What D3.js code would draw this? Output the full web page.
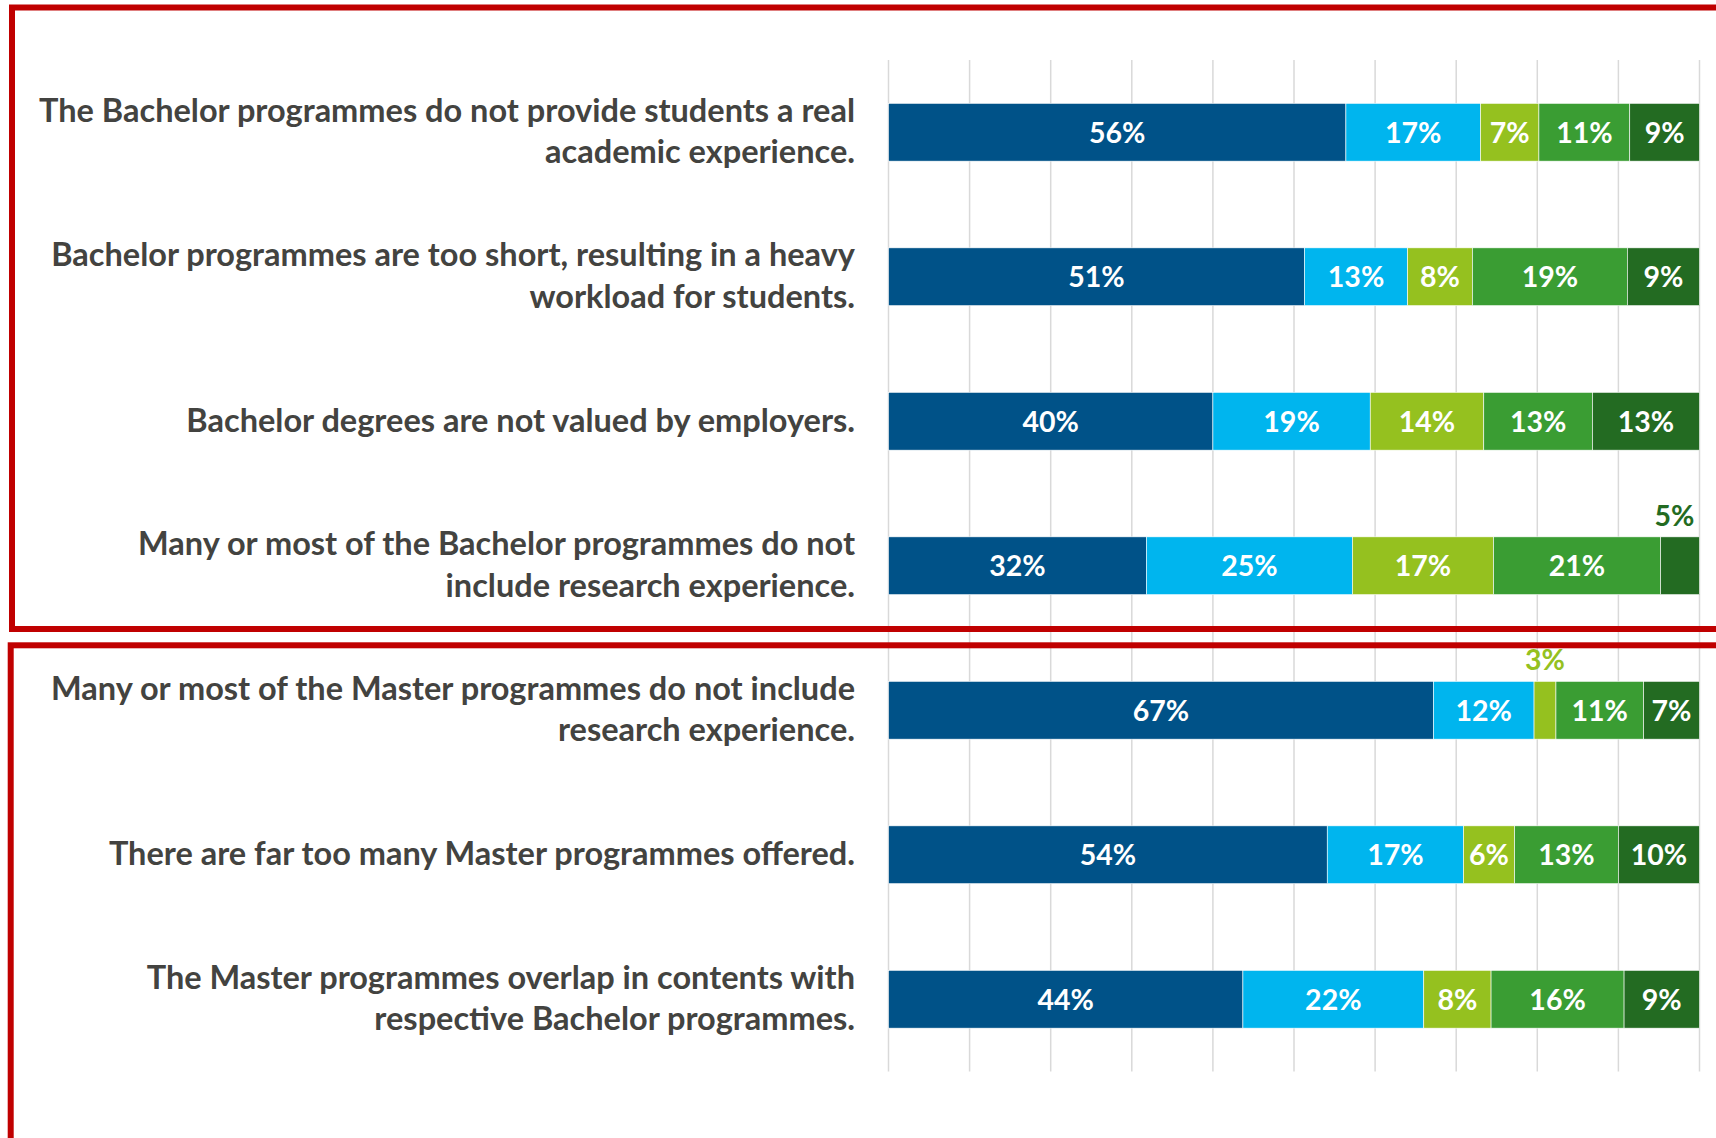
<!DOCTYPE html>
<html>
<head>
<meta charset="utf-8">
<script src="https://cdn.jsdelivr.net/npm/d3@7"></script>
<style>
  html, body { margin: 0; padding: 0; background: #ffffff; }
  svg { display: block; }
</style>
</head>
<body>
<svg id="chart" width="1716" height="1138"></svg>
<script>
// ---- data ----
const categories = [
  ["The Bachelor programmes do not provide students a real", "academic experience."],
  ["Bachelor programmes are too short, resulting in a heavy", "workload for students."],
  ["Bachelor degrees are not valued by employers."],
  ["Many or most of the Bachelor programmes do not", "include research experience."],
  ["Many or most of the Master programmes do not include", "research experience."],
  ["There are far too many Master programmes offered."],
  ["The Master programmes overlap in contents with", "respective Bachelor programmes."]
];
const seriesKeys = ["s1", "s2", "s3", "s4", "s5"];
const s1 = [56.4, 51.3, 40.0, 31.8, 67.2, 54.1, 43.7];
const s2 = [16.6, 12.7, 19.4, 25.4, 12.4, 16.8, 22.3];
const s3 = [7.2, 8.0, 14.0, 17.4, 2.7, 6.3, 8.3];
const s4 = [11.2, 19.1, 13.4, 20.6, 10.8, 12.8, 16.4];
const s5 = [8.6, 8.9, 13.2, 4.8, 6.9, 10.0, 9.3];
const seriesColors = ["#005288", "#00B5EE", "#95C11F", "#3A9D33", "#236B22"];
const gridTicks = [0, 0.1, 0.2, 0.3, 0.4, 0.5, 0.6, 0.7, 0.8, 0.9, 1.0];

// ---- build table ----
const seriesValues = [s1, s2, s3, s4, s5];
const rows = categories.map((c, i) => {
  const r = { idx: i };
  seriesKeys.forEach((k, j) => r[k] = seriesValues[j][i]);
  return r;
});

const svg = d3.select("#chart");

const x = d3.scaleLinear().domain([0, 1]).range([888.5, 1699.5]);
const y = d3.scaleBand().domain(d3.range(categories.length))
  .range([60, 1071.5]).paddingInner(0.6).paddingOuter(0.3);
const color = d3.scaleOrdinal().domain(seriesKeys).range(seriesColors);

// gridlines
svg.append("g").selectAll("line").data(gridTicks).join("line")
  .attr("x1", d => x(d)).attr("x2", d => x(d))
  .attr("y1", 60).attr("y2", 1071.5)
  .attr("stroke", "#D9D9D9").attr("stroke-width", 1.5);

// stacked bars (100% stacked)
const stack = d3.stack().keys(seriesKeys).offset(d3.stackOffsetExpand);
const stacked = stack(rows);

const layers = svg.append("g").selectAll("g").data(stacked).join("g")
  .attr("fill", d => color(d.key));

layers.selectAll("rect").data(d => d).join("rect")
  .attr("x", d => x(d[0]))
  .attr("y", (d, i) => y(i))
  .attr("width", d => x(d[1]) - x(d[0]))
  .attr("height", y.bandwidth())
  .attr("stroke", "#ffffff").attr("stroke-width", 0.6);

// value labels
const labelFont = "Lato, 'Open Sans', sans-serif";
stacked.forEach((layer, j) => {
  layer.forEach((p, i) => {
    const v = Math.round(p.data[layer.key]);
    const cx = (x(p[0]) + x(p[1])) / 2;
    const small = v < 6;
    svg.append("text")
      .attr("x", small ? Math.min(cx, x(1) - 25) : cx)
      .attr("y", small ? y(i) - 11 : y(i) + y.bandwidth() / 2)
      .attr("dy", small ? 0 : "0.36em")
      .attr("text-anchor", "middle")
      .attr("font-family", labelFont)
      .attr("font-weight", 700)
      .attr("font-size", 28.5)
      .attr("fill", small ? seriesColors[j] : "#ffffff")
      .text(v + "%");
  });
});

// category labels
const catG = svg.append("g");
categories.forEach((lines, i) => {
  const cy = y(i) + y.bandwidth() / 2;
  const lh = 41.6;
  const t = catG.append("text")
    .attr("text-anchor", "end")
    .attr("font-family", labelFont)
    .attr("font-weight", 700)
    .attr("font-size", 32.5)
    .attr("fill", "#434340");
  lines.forEach((ln, k) => {
    const off = (k - (lines.length - 1) / 2) * lh;
    t.append("tspan").attr("x", 855).attr("y", cy + off - 1).attr("dy", "0.35em").text(ln);
  });
});

// red frames
svg.append("rect").attr("x", 12).attr("y", 7.5).attr("width", 1760).attr("height", 621.5)
  .attr("fill", "none").attr("stroke", "#C00000").attr("stroke-width", 6);
svg.append("rect").attr("x", 10.7).attr("y", 645.3).attr("width", 1760).attr("height", 600)
  .attr("fill", "none").attr("stroke", "#C00000").attr("stroke-width", 6);
</script>
</body>
</html>
